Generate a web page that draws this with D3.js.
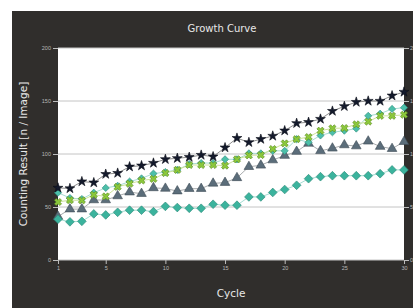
<!DOCTYPE html>
<html lang="en">
<head>
<meta charset="UTF-8">
<title>Growth Curve</title>
<style>
body { margin: 0; background: #fff; }
svg { display: block; }
.tick text { fill: #b8b8b8; font-family: 'Liberation Sans', sans-serif; font-size: 5.5px; }
.tick line { stroke: #bdbdbd; }
.domain { display: none; }
.title { fill: #e8e8e8; font-family: 'DejaVu Sans', sans-serif; }
</style>
</head>
<body>
<svg id="chart" width="413" height="308"></svg>
<script src="https://d3js.org/d3.v7.min.js"></script>
<script>
// cycles 1..30
var cycles = d3.range(1, 31);
var stars = [68, 67.5, 74, 73, 81, 82, 88, 89, 91.5, 95, 96, 97, 99, 97.5, 106, 115, 111, 114, 117, 122, 129, 130, 133, 140.5, 145, 149, 150, 150, 155, 158.5];
var tealUpper = [63.5, 58.5, 57.5, 63.5, 68, 70, 74, 77, 81.5, 83, 85, 90.5, 91.5, 91.5, 95, 95, 100.6, 100.6, 103, 103, 114, 111, 117.5, 120.5, 122, 124, 136, 138, 142.5, 143.7];
var greenX = [54.7, 56.5, 56.3, 61.5, 60, 69, 72, 75, 76.5, 82, 85, 89.6, 89.6, 89.6, 89, 95, 98.7, 99, 104.7, 110, 114, 116, 122, 124.2, 124.5, 128, 130.5, 136, 136, 137];
var triangles = [41, 48, 48, 56.6, 56.6, 60.4, 64, 62.6, 68, 67.5, 65, 67.3, 67.3, 72.3, 73, 77.5, 88, 89.3, 94.3, 98.5, 102.3, 110, 103, 105.4, 108.5, 107.5, 112, 107, 105, 111.6];
var tealLower = [38.5, 36, 36.5, 43.5, 42.5, 45, 47, 47, 45.6, 50.6, 49.5, 48.8, 48.8, 52.6, 51.7, 51.7, 59.5, 59.5, 63.7, 66.5, 70.5, 76.7, 78.6, 79.5, 79.5, 79.5, 79.5, 81.4, 85, 85];
var yTicks = [0, 50, 100, 150, 200];
var xTicks = [1, 5, 10, 15, 20, 25, 30];

var series = [
  {values: triangles, shape: d3.symbolTriangle, size: 40, rot: 0, fill: "#5b6d7a", stroke: "#3d4a54", line: "#a9acae"},
  {values: tealLower, shape: d3.symbolSquare, size: 38, rot: 45, fill: "#3bb39d", stroke: "#2a8a78", line: "#a4ddd2"},
  {values: tealUpper, shape: d3.symbolSquare, size: 26, rot: 45, fill: "#4cbfa9", stroke: "#2f8f7e", line: "#a8dcd2"},
  {values: greenX, shape: d3.symbolCross, size: 32, rot: 45, fill: "#8cc83c", stroke: "#5a8a22", line: "#cde49a"},
  {values: stars, shape: d3.symbolStar, size: 30, rot: 0, fill: "#141a2c", stroke: "#0a0d18", line: "#8e8e8e"}
];

var svg = d3.select("#chart");
var plotL = 58, plotR = 404, plotT = 48, plotB = 260;

svg.append("rect").attr("x", 12).attr("y", 11).attr("width", 401).attr("height", 297).attr("fill", "#302e2c");
svg.append("rect").attr("x", plotL).attr("y", plotT).attr("width", plotR - plotL).attr("height", plotB - plotT).attr("fill", "#fff");

var x = d3.scaleLinear().domain([1, 30]).range([plotL, plotR]);
var y = d3.scaleLinear().domain([0, 200]).range([plotB, plotT]);

// grid
svg.append("g").selectAll("line").data(yTicks).enter().append("line")
  .attr("x1", plotL).attr("x2", plotR)
  .attr("y1", function (d) { return y(d); }).attr("y2", function (d) { return y(d); })
  .attr("stroke", "#c4c4c4").attr("stroke-width", 1);

svg.append("g").attr("transform", "translate(" + plotL + ",0)")
  .call(d3.axisLeft(y).tickValues(yTicks).tickSize(5).tickPadding(2));
svg.append("g").attr("transform", "translate(" + plotR + ",0)")
  .call(d3.axisRight(y).tickValues(yTicks).tickSize(5).tickPadding(1));
svg.append("g").attr("transform", "translate(0," + plotB + ")")
  .call(d3.axisBottom(x).tickValues(xTicks).tickSize(4).tickPadding(2));

var line = d3.line().x(function (d, i) { return x(cycles[i]); }).y(function (d) { return y(d); });

series.forEach(function (s) {
  var g = svg.append("g");
  g.append("path").datum(s.values).attr("d", line)
    .attr("fill", "none").attr("stroke", s.line).attr("stroke-width", 1);
  g.selectAll("path.m").data(s.values).enter().append("path").attr("class", "m")
    .attr("d", d3.symbol().type(s.shape).size(s.size))
    .attr("transform", function (d, i) {
      return "translate(" + x(cycles[i]) + "," + y(d) + ") rotate(" + s.rot + ")";
    })
    .attr("fill", s.fill).attr("stroke", s.stroke).attr("stroke-width", 0.6);
});

svg.append("text").attr("class", "title").attr("x", 222).attr("y", 31.5)
  .attr("text-anchor", "middle").attr("font-size", 10).text("Growth Curve");
svg.append("text").attr("class", "title").attr("x", 231).attr("y", 297)
  .attr("text-anchor", "middle").attr("font-size", 10.5).attr("fill", "#cfcfcf").text("Cycle");
svg.append("text").attr("class", "title")
  .attr("transform", "translate(27," + ((plotT + plotB) / 2) + ") rotate(-90)")
  .attr("text-anchor", "middle").attr("font-size", 10.5).attr("fill", "#c8c8c8")
  .text("Counting Result [n / Image]");
</script>
</body>
</html>
